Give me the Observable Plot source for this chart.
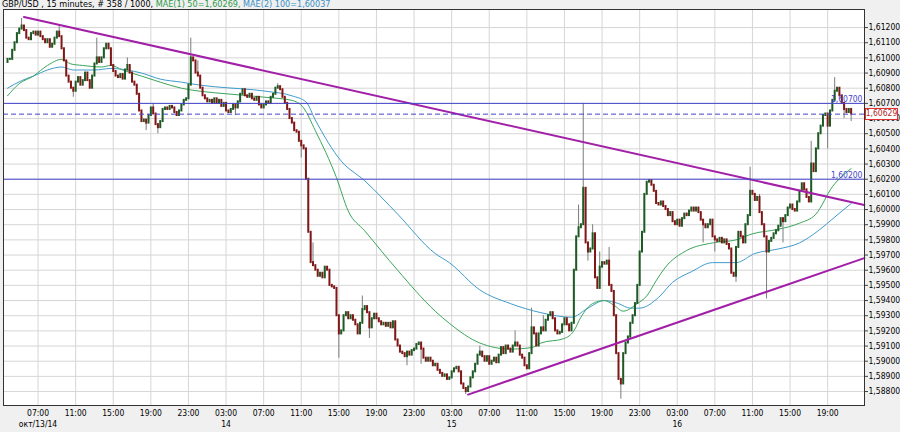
<!DOCTYPE html>
<html><head><meta charset="utf-8">
<script src="https://cdn.jsdelivr.net/npm/d3@7"></script>
<script src="https://cdn.jsdelivr.net/npm/@observablehq/plot@0.6"></script>
<style>
body{margin:0;background:#f0f0f0;}
#wrap{position:relative;width:900px;height:432px;overflow:hidden;}
#title{position:absolute;left:2px;top:0px;font-size:9px;line-height:9px;white-space:pre;color:#000;font-family:"Liberation Sans Narrow","DejaVu Sans Condensed","Liberation Sans",sans-serif;}
</style></head><body>
<div id="wrap"><div id="chart"></div><div id="title"></div></div>
<script>
// ---- data ----
const titleMain = "GBP/USD , 15 minutes, # 358 / 1000, ";
const titleMa50 = "MAE(1) 50=1,60269, ";
const titleMa100 = "MAE(2) 100=1,60037";
const startTime = new Date(2014, 9, 13, 3, 45); // first 15-min bar
const firstOpen = 1.6097;
const closes = [
1.6099,1.6099,1.6105,1.6110,1.6116,1.6119,1.6121,1.6118,1.6113,1.6112,
1.6116,1.6117,1.6115,1.6117,1.6114,1.6112,1.6110,1.6112,1.6107,1.6109,
1.6113,1.6117,1.6114,1.6106,1.6098,1.6088,1.6084,1.6080,1.6078,1.6084,
1.6087,1.6082,1.6085,1.6090,1.6085,1.6080,1.6088,1.6096,1.6100,1.6097,
1.6100,1.6106,1.6109,1.6106,1.6095,1.6091,1.6088,1.6087,1.6089,1.6086,
1.6092,1.6095,1.6090,1.6084,1.6082,1.6076,1.6065,1.6058,1.6059,1.6057,
1.6062,1.6067,1.6063,1.6056,1.6054,1.6058,1.6066,1.6067,1.6066,1.6068,
1.6067,1.6064,1.6062,1.6065,1.6069,1.6072,1.6073,1.6082,1.6100,1.6098,
1.6090,1.6088,1.6080,1.6075,1.6073,1.6071,1.6072,1.6070,1.6073,1.6070,
1.6072,1.6068,1.6070,1.6065,1.6064,1.6066,1.6069,1.6067,1.6071,1.6076,
1.6079,1.6075,1.6074,1.6076,1.6073,1.6072,1.6074,1.6069,1.6067,1.6069,
1.6071,1.6070,1.6074,1.6076,1.6080,1.6081,1.6079,1.6074,1.6070,1.6066,
1.6060,1.6057,1.6052,1.6051,1.6045,1.6042,1.6040,1.6020,1.5985,1.5965,
1.5963,1.5960,1.5956,1.5958,1.5955,1.5962,1.5960,1.5950,1.5949,1.5948,
1.5930,1.5918,1.5920,1.5930,1.5932,1.5928,1.5930,1.5927,1.5924,1.5918,
1.5925,1.5934,1.5936,1.5932,1.5922,1.5928,1.5931,1.5928,1.5926,1.5924,
1.5925,1.5923,1.5925,1.5922,1.5926,1.5914,1.5910,1.5906,1.5905,1.5903,
1.5906,1.5904,1.5907,1.5908,1.5911,1.5912,1.5908,1.5902,1.5900,1.5902,
1.5900,1.5897,1.5898,1.5894,1.5892,1.5890,1.5891,1.5888,1.5889,1.5893,
1.5895,1.5896,1.5893,1.5885,1.5882,1.5880,1.5883,1.5889,1.5893,1.5898,
1.5904,1.5906,1.5903,1.5900,1.5903,1.5898,1.5900,1.5902,1.5899,1.5904,
1.5909,1.5905,1.5910,1.5908,1.5906,1.5910,1.5912,1.5910,1.5904,1.5902,
1.5897,1.5895,1.5905,1.5922,1.5918,1.5910,1.5918,1.5922,1.5920,1.5927,
1.5930,1.5932,1.5928,1.5920,1.5918,1.5919,1.5924,1.5928,1.5924,1.5920,
1.5925,1.5960,1.5982,1.5988,1.5990,1.6014,1.5978,1.5972,1.5974,1.5984,
1.5955,1.5948,1.5962,1.5965,1.5964,1.5966,1.5950,1.5946,1.5930,1.5905,
1.5888,1.5885,1.5905,1.5912,1.5916,1.5925,1.5930,1.5938,1.5950,1.5972,
1.5985,1.6010,1.6018,1.6019,1.6016,1.6012,1.6004,1.6003,1.6005,1.6002,
1.6000,1.5996,1.5998,1.5992,1.5990,1.5993,1.5989,1.5994,1.5997,1.5996,
1.5999,1.6001,1.5999,1.6001,1.5998,1.5993,1.5990,1.5988,1.5990,1.5993,
1.5982,1.5980,1.5979,1.5981,1.5978,1.5980,1.5977,1.5974,1.5958,1.5956,
1.5975,1.5985,1.5982,1.5978,1.5990,1.5996,1.6012,1.6010,1.6006,1.6008,
1.5998,1.5990,1.5982,1.5972,1.5979,1.5981,1.5984,1.5986,1.5989,1.5994,
1.5992,1.5996,1.6001,1.6003,1.6000,1.5999,1.6005,1.6012,1.6017,1.6013,
1.6008,1.6005,1.6030,1.6025,1.6040,1.6050,1.6055,1.6062,1.6063,1.6055,
1.6065,1.6072,1.6078,1.6080,1.6075,1.6070,1.6066,1.6064,1.6066,1.6063
];
// notable wicks: bar index, high, low (null = none beyond body)
const wickBars  = [6,22,28,38,51,59,62,64,78,81,97,115,125,130,141,151,154,170,176,195,201,216,223,228,243,245,247,249,252,256,261,265,296,301,310,316,320,323,330,342,349,352,356,359];
const wickHighs = [1.6126,1.6122,null,1.6113,1.6100,null,1.6070,null,1.6113,1.6098,null,1.6083,null,1.5978,null,1.5943,null,null,null,null,1.5910,1.5920,1.5935,1.5930,1.6003,1.6070,null,1.5990,1.5972,1.5975,null,null,null,null,null,1.6028,1.6010,null,null,1.6045,null,1.6087,null,null];
const wickLows  = [null,null,1.6074,null,null,1.6052,null,1.6050,null,null,1.6062,null,1.6034,null,1.5902,null,1.5915,1.5897,1.5898,1.5878,null,null,null,null,null,null,1.5966,null,null,null,1.5875,1.5915,1.5978,1.5972,1.5952,null,null,1.5941,1.5978,null,1.6040,null,1.6060,1.6058];
// moving averages (bar index, value)
const ma50Bars = [0,5,11,17,23,27,32,40,44,49,57,65,74,82,88,110,121,126,131,140,145,152,166,182,188,201,214,223,227,237,241,244,249,254,258,262,268,272,276,280,289,300,310,317,328,337,344,351,359];
const ma50Vals = [1.6075,1.6083,1.6088,1.6095,1.6099,1.6096,1.6095,1.6094,1.6095,1.6092,1.6088,1.6084,1.6080,1.6078,1.6077,1.6074,1.6072,1.6067,1.6052,1.6021,1.5999,1.5986,1.5960,1.5933,1.5925,1.5912,1.5908,1.5909,1.5912,1.5915,1.5920,1.5929,1.5938,1.5940,1.5937,1.5933,1.5938,1.5943,1.5953,1.5962,1.5973,1.5978,1.5980,1.5984,1.5987,1.5991,1.5997,1.6015,1.6027];
const ma100Bars = [0,6,11,17,23,28,37,44,51,57,65,74,82,88,110,121,127,131,142,152,166,182,188,201,214,227,240,247,254,260,265,269,277,283,291,300,310,318,328,337,345,352,359];
const ma100Vals = [1.6080,1.6085,1.6088,1.6092,1.6094,1.6092,1.6092,1.6093,1.6092,1.6090,1.6086,1.6084,1.6082,1.6081,1.6078,1.6075,1.6071,1.6059,1.6032,1.6019,1.5997,1.5971,1.5965,1.5947,1.5938,1.5932,1.5929,1.5935,1.5940,1.5938,1.5935,1.5935,1.5942,1.5952,1.5959,1.5965,1.5965,1.5971,1.5974,1.5978,1.5986,1.5995,1.6004];
// trend lines (bar index, price)
const upperTrendBars = [7, 364.6];
const upperTrendVals = [1.6127, 1.6003];
const lowerTrendBars = [196, 364.6];
const lowerTrendVals = [1.5878, 1.5968];
// horizontal levels
const levels = [1.6070, 1.6020];
const currentPrice = 1.60629;
// axes
const yTicks = [1.588,1.589,1.590,1.591,1.592,1.593,1.594,1.595,1.596,1.597,1.598,1.599,1.600,1.601,1.602,1.603,1.604,1.605,1.606,1.607,1.608,1.609,1.610,1.611,1.612];
const xTickTimes = ["2014-10-13T07:00","2014-10-13T11:00","2014-10-13T15:00","2014-10-13T19:00","2014-10-13T23:00",
  "2014-10-14T03:00","2014-10-14T07:00","2014-10-14T11:00","2014-10-14T15:00","2014-10-14T19:00","2014-10-14T23:00",
  "2014-10-15T03:00","2014-10-15T07:00","2014-10-15T11:00","2014-10-15T15:00","2014-10-15T19:00","2014-10-15T23:00",
  "2014-10-16T03:00","2014-10-16T07:00","2014-10-16T11:00","2014-10-16T15:00","2014-10-16T19:00"];
const xDateLabels = {"2014-10-13T07:00":"окт/13/14","2014-10-14T03:00":"14","2014-10-15T03:00":"15","2014-10-16T03:00":"16"};

// ---- build ----
const FONT = '"Liberation Sans Narrow","DejaVu Sans Condensed","Liberation Sans",sans-serif';
const T = i => new Date(startTime.getTime() + i * 15 * 60000);
const fmtY = d => d.toFixed(5).replace(".", ",");
const bars = closes.map((c, i) => {
  const o = i === 0 ? firstOpen : closes[i - 1];
  let hi = Math.max(o, c), lo = Math.min(o, c);
  const k = wickBars.indexOf(i);
  if (k >= 0) { hi = Math.max(hi, wickHighs[k] ?? hi); lo = Math.min(lo, wickLows[k] ?? lo); }
  return {t: T(i), o, c, hi, lo, up: c >= o};
});
const ma50 = ma50Bars.map((b, k) => ({t: T(b), v: ma50Vals[k]}));
const ma100 = ma100Bars.map((b, k) => ({t: T(b), v: ma100Vals[k]}));
const upper = upperTrendBars.map((b, k) => ({t: T(b), v: upperTrendVals[k]}));
const lower = lowerTrendBars.map((b, k) => ({t: T(b), v: lowerTrendVals[k]}));
const xTicks = xTickTimes.map(s => new Date(s));
const xLabel = d => {
  const key = xTickTimes[xTicks.findIndex(x => +x === +d)];
  const hh = String(d.getHours()).padStart(2, "0") + ":00";
  return xDateLabels[key] ? hh + "\n" + xDateLabels[key] : hh;
};
const LEVEL = "#4444cc";

const chart = Plot.plot({
  width: 900, height: 432,
  marginLeft: 3, marginRight: 36, marginTop: 9, marginBottom: 27,
  style: {background: "#f0f0f0", fontFamily: FONT, fontSize: "8.5px", color: "#000", overflow: "visible"},
  x: {type: "time", domain: [T(-1.7), T(364.68)]},
  y: {domain: [1.58708, 1.61319]},
  marks: [
    Plot.frame({fill: "white", stroke: null}),
    Plot.ruleY(yTicks, {stroke: "#d6d6d6"}),
    Plot.ruleX(xTicks, {stroke: "#d6d6d6"}),
    Plot.axisY(yTicks, {anchor: "right", label: null, tickFormat: fmtY, tickSize: 3, tickPadding: 1, stroke: "#444"}),
    Plot.axisX(xTicks, {anchor: "bottom", label: null, tickFormat: xLabel, tickSize: 0, tickPadding: 3, lineHeight: 1.3}),
    Plot.line(ma100, {x: "t", y: "v", stroke: "#3f9bcc", strokeWidth: 1, curve: "monotone-x"}),
    Plot.line(ma50, {x: "t", y: "v", stroke: "#3aa55a", strokeWidth: 1, curve: "monotone-x"}),
    Plot.ruleX(bars, {x: "t", y1: "lo", y2: "hi", stroke: "#7c7c7c", strokeWidth: 1}),
    Plot.ruleX(bars, {x: "t", y1: "o", y2: "c", stroke: d => d.up ? "#1d5a24" : "#801616", strokeWidth: 2, strokeLinecap: "square"}),
    Plot.line(upper, {x: "t", y: "v", stroke: "#a21fa8", strokeWidth: 2}),
    Plot.line(lower, {x: "t", y: "v", stroke: "#a21fa8", strokeWidth: 2}),
    Plot.ruleY(levels, {stroke: LEVEL, strokeWidth: 1}),
    Plot.ruleY([currentPrice], {stroke: LEVEL, strokeWidth: 1, strokeDasharray: "5,3"}),
    Plot.text(levels, {y: d => d, text: d => fmtY(d), frameAnchor: "right", textAnchor: "end", lineAnchor: "bottom", dx: -2, dy: -1, fill: LEVEL}),
    Plot.frame({stroke: "#333"})
  ]
});
document.getElementById("chart").appendChild(chart);

// current price box on the axis, placed with the chart's y scale
const yScale = chart.scale("y");
const yc = yScale.apply(currentPrice);
const g = d3.select(chart).append("g");
g.append("rect").attr("x", 865.5).attr("y", Math.round(yc) - 5.5).attr("width", 32).attr("height", 11)
  .attr("fill", "#fff").attr("stroke", "#e03030");
g.append("text").attr("x", 881.5).attr("y", yc).attr("dy", "0.32em").attr("text-anchor", "middle")
  .attr("fill", "#b02828").attr("font-family", FONT).attr("font-size", 8.5).text(fmtY(currentPrice));

const title = document.getElementById("title");
[[titleMain, "#000"], [titleMa50, "#2e9a4a"], [titleMa100, "#3a8fc4"]].forEach(([s, col]) => {
  const span = document.createElement("span"); span.textContent = s; span.style.color = col; title.appendChild(span);
});
</script>
</body></html>
